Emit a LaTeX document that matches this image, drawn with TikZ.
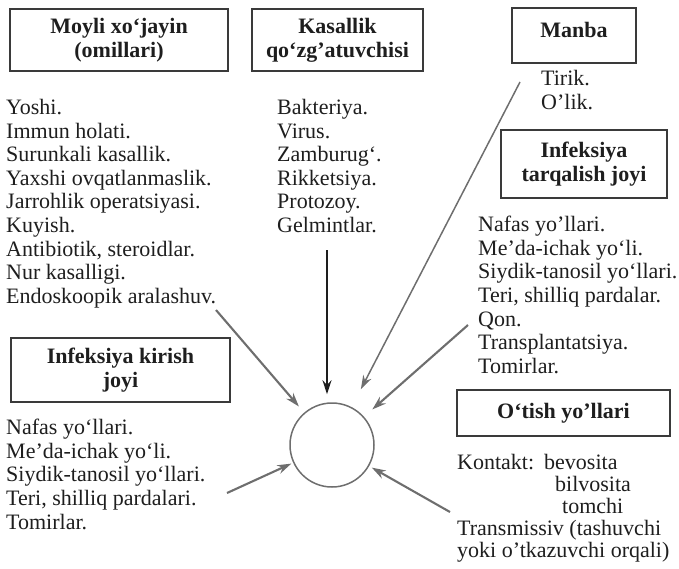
\documentclass[tikz,border=0pt]{standalone}
\usepackage{fontspec}
\setmainfont{Liberation Serif}
\usepackage{xcolor}
\usepackage{tikz}
\usetikzlibrary{positioning,arrows.meta,calc}
\definecolor{inkgray}{HTML}{1E1E1E}
\definecolor{arrowgray}{HTML}{6E6E6E}
\definecolor{framegray}{HTML}{3A3A3A}

\begin{document}
\begin{tikzpicture}[x=1pt, y=-1pt,
    headbox/.style={draw=framegray, line width=1.1pt, align=center, inner sep=0pt, text=inkgray,
      font=\fontsize{22}{24}\selectfont\bfseries},
    listtext/.style={align=left, inner sep=0pt, anchor=north west, text=inkgray,
      font=\fontsize{22}{23.6}\selectfont},
    flow/.style={draw=arrowgray, line width=2.1pt, -{Stealth[length=14pt, width=9pt]}}]
  \useasboundingbox (0,0) rectangle (679,568);

  % boxes
  \node[headbox, minimum width=218pt, minimum height=62pt] (host) at (119,40) {Moyli xo‘jayin\\(omillari)};
  \node[headbox, minimum width=171pt, minimum height=62pt] (agent) at (337.5,40) {Kasallik\\qo‘zg’atuvchisi};
  \node[headbox, minimum width=124pt, minimum height=55pt, text depth=12pt] (source) at (574,35.5) {Manba};
  \node[headbox, minimum width=166pt, minimum height=68pt] (spread) at (584,164) {Infeksiya\\tarqalish joyi};
  \node[headbox, minimum width=219pt, minimum height=64pt] (entry) at (120.5,370) {Infeksiya kirish\\joyi};
  \node[headbox, minimum width=213pt, minimum height=46pt] (route) at (563.5,413) {O‘tish yo’llari};

  % lists
  \node[listtext] (hostlist) at (6,99) {Yoshi.\\Immun holati.\\Surunkali kasallik.\\Yaxshi ovqatlanmaslik.\\Jarrohlik operatsiyasi.\\Kuyish.\\Antibiotik, steroidlar.\\Nur kasalligi.\\Endoskoopik aralashuv.};
  \node[listtext] (agentlist) at (277,99) {Bakteriya.\\Virus.\\Zamburug‘.\\Rikketsiya.\\Protozoy.\\Gelmintlar.};
  \node[listtext] (sourcelist) at (541,70) {Tirik.\\O’lik.};
  \node[listtext] (spreadlist) at (478,216) {Nafas yo’llari.\\Me’da-ichak yo‘li.\\Siydik-tanosil yo‘llari.\\Teri, shilliq pardalar.\\Qon.\\Transplantatsiya.\\Tomirlar.};
  \node[listtext] (entrylist) at (6,419) {Nafas yo‘llari.\\Me’da-ichak yo‘li.\\Siydik-tanosil yo‘llari.\\Teri, shilliq pardalari.\\Tomirlar.};
  \node[listtext, font=\fontsize{22}{22}\selectfont] (routelist) at (457,454) {Kontakt:\hspace{10pt}bevosita\\\phantom{Kontakt:}\hspace{21pt}bilvosita\\\phantom{Kontakt:}\hspace{28pt}tomchi\\Transmissiv (tashuvchi\\yoki o’tkazuvchi orqali)};

  % centre
  \node[circle, draw=arrowgray, line width=1.5pt, minimum size=84pt, inner sep=0pt] (core) at (332,445) {};

  \coordinate (fromhost) at (216,310);
  \coordinate (fromagent) at (327,250);
  \coordinate (fromsource) at (520,82);
  \coordinate (fromblood) at (468,325);
  \coordinate (fromroute) at (450,512);
  \coordinate (fromentry) at (227,493);

  \draw[flow, shorten >=8pt] (fromhost) -- (core);
  \draw[flow, draw=inkgray, line width=1.3pt, shorten >=8pt] (fromagent) -- (fromagent |- core.north);
  \draw[flow, line width=1.5pt, shorten >=20pt] (fromsource) -- (core);
  \draw[flow, shorten >=11pt] (fromblood) -- (core);
  \draw[flow, shorten >=3pt] (fromroute) -- (core);
  \draw[flow, shorten >=2pt] (fromentry) -- (core);
\end{tikzpicture}
\end{document}
